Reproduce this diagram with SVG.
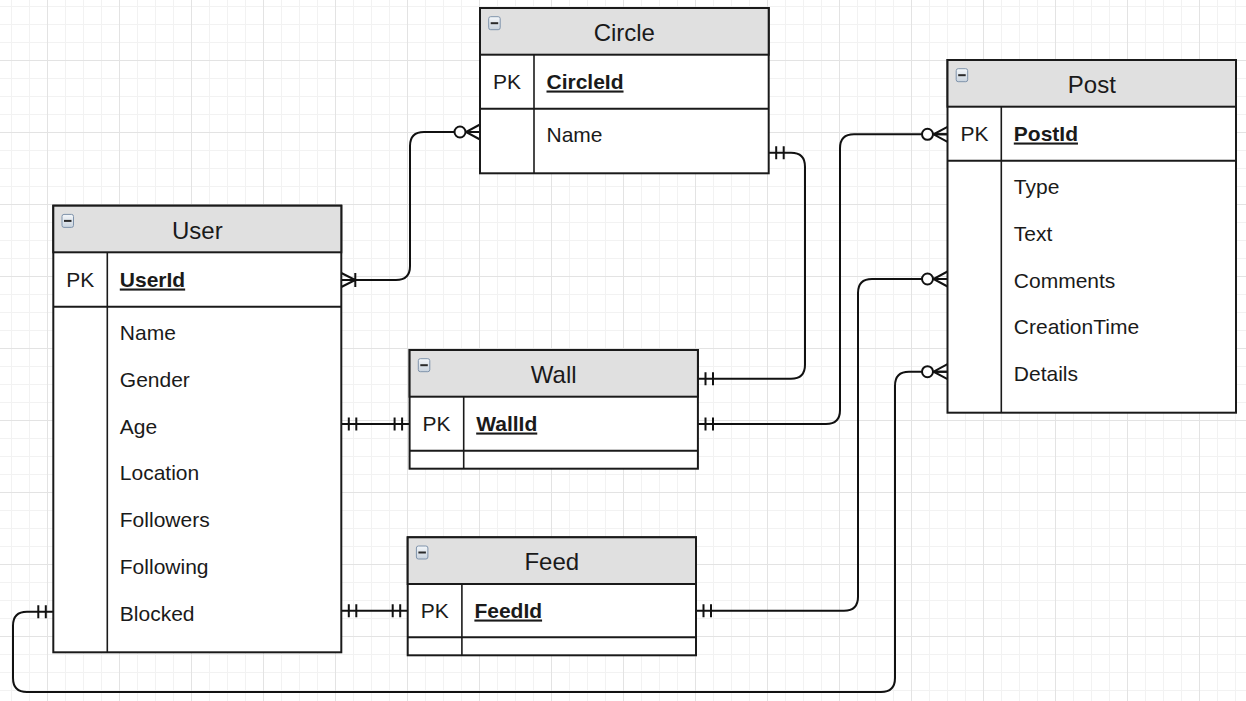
<svg xmlns="http://www.w3.org/2000/svg" width="1246" height="701" viewBox="0 0 1246 701">
<style>
.box{fill:#ffffff;stroke:#1a1a1a;stroke-width:2}
.hdr{fill:#e0e0e0;stroke:#1a1a1a;stroke-width:2}
.ln{stroke:#1a1a1a;stroke-width:2;fill:none}
.dv{stroke:#1a1a1a;stroke-width:1.6;fill:none}
.title{font-family:"Liberation Sans",Arial,sans-serif;font-size:24px;fill:#1a1a1a;text-anchor:middle}
.pk{font-family:"Liberation Sans",Arial,sans-serif;font-size:21px;fill:#1a1a1a;text-anchor:middle}
.key{font-family:"Liberation Sans",Arial,sans-serif;font-size:21px;font-weight:bold;fill:#1a1a1a;text-decoration:underline}
.fld{font-family:"Liberation Sans",Arial,sans-serif;font-size:21px;fill:#1a1a1a}
.conn{stroke:#111111;stroke-width:2;fill:none}
.mk{stroke:#111111;stroke-width:2;fill:none}
.ico{fill:url(#icoFill);stroke:#7f93ab;stroke-width:1}
.icoBar{stroke:#2a2a2a;stroke-width:2}
</style>
<defs>
<pattern id="grid" width="72" height="72" patternUnits="userSpaceOnUse" x="47" y="60">
<rect x="18" y="0" width="1" height="72" fill="#f2f2f2"/>
<rect x="36" y="0" width="1" height="72" fill="#f2f2f2"/>
<rect x="54" y="0" width="1" height="72" fill="#f2f2f2"/>
<rect x="0" y="18" width="72" height="1" fill="#f2f2f2"/>
<rect x="0" y="36" width="72" height="1" fill="#f2f2f2"/>
<rect x="0" y="54" width="72" height="1" fill="#f2f2f2"/>
<rect x="0" y="0" width="1" height="72" fill="#e3e3e3"/>
<rect x="0" y="0" width="72" height="1" fill="#e3e3e3"/>
</pattern>
<linearGradient id="icoFill" x1="0" y1="0" x2="0" y2="1">
<stop offset="0" stop-color="#f4f7fa"/>
<stop offset="1" stop-color="#c9d3de"/>
</linearGradient>
<marker id="zeroMany" markerUnits="userSpaceOnUse" markerWidth="40" markerHeight="30" refX="0" refY="0" viewBox="-30 -15 40 30" orient="auto-start-reverse" overflow="visible">
<path class="mk" d="M0,-7.5L-14,0L0,7.5M0,0H-14"/>
<circle cx="-20" cy="0" r="5.5" fill="#ffffff" stroke="#111111" stroke-width="2"/>
</marker>
<marker id="mandOne" markerUnits="userSpaceOnUse" markerWidth="40" markerHeight="30" refX="0" refY="0" viewBox="-30 -15 40 30" orient="auto-start-reverse" overflow="visible">
<path class="mk" d="M-7.5,-6.5V6.5M-15,-6.5V6.5"/>
</marker>
<marker id="oneMany" markerUnits="userSpaceOnUse" markerWidth="40" markerHeight="30" refX="0" refY="0" viewBox="-30 -15 40 30" orient="auto-start-reverse" overflow="visible">
<path class="mk" d="M0,-7L-14,0L0,7M0,0H-14M-14,-7V7"/>
</marker>
</defs>
<rect x="0" y="0" width="1246" height="701" fill="#ffffff"/>
<rect x="0" y="0" width="1246" height="701" fill="url(#grid)"/>

<g id="connectors">
<path class="conn" d="M341.3,280 H396 Q410,280 410,266 V146 Q410,132 424,132 H480" marker-start="url(#oneMany)" marker-end="url(#zeroMany)"/>
<path class="conn" d="M768.7,152.7 H791 Q805,152.7 805,166.7 V364.7 Q805,378.7 791,378.7 H698" marker-start="url(#mandOne)" marker-end="url(#mandOne)"/>
<path class="conn" d="M698,424 H826 Q840,424 840,410 V148.3 Q840,134.3 854,134.3 H947.5" marker-start="url(#mandOne)" marker-end="url(#zeroMany)"/>
<path class="conn" d="M696,610.7 H844 Q858,610.7 858,596.7 V293 Q858,279 872,279 H947.5" marker-start="url(#mandOne)" marker-end="url(#zeroMany)"/>
<path class="conn" d="M53.3,611.7 H27 Q13,611.7 13,625.7 V678 Q13,692 27,692 H881 Q895,692 895,678 V385.7 Q895,371.7 909,371.7 H947.5" marker-start="url(#mandOne)" marker-end="url(#zeroMany)"/>
<path class="conn" d="M341.3,424 H409.6" marker-start="url(#mandOne)" marker-end="url(#mandOne)"/>
<path class="conn" d="M341.3,610.8 H407.7" marker-start="url(#mandOne)" marker-end="url(#mandOne)"/>
</g>

<g id="circle">
<rect class="box" x="480" y="8" width="288.7" height="165.3"/>
<rect class="hdr" x="480" y="8" width="288.7" height="46.7"/>
<line class="ln" x1="480" y1="108.7" x2="768.7" y2="108.7"/>
<line class="dv" x1="534" y1="54.7" x2="534" y2="173.3"/>
<rect class="ico" x="488.7" y="16.7" width="11.5" height="13" rx="2"/>
<line class="icoBar" x1="490.7" y1="23.2" x2="498.2" y2="23.2"/>
<text class="title" x="624.3" y="40.8">Circle</text>
<text class="pk" x="507" y="88.5">PK</text>
<text class="key" x="546.5" y="88.5">CircleId</text>
<text class="fld" x="546.5" y="142">Name</text>
</g>

<g id="user">
<rect class="box" x="53.3" y="205.7" width="288" height="446.6"/>
<rect class="hdr" x="53.3" y="205.7" width="288" height="46.6"/>
<line class="ln" x1="53.3" y1="306.7" x2="341.3" y2="306.7"/>
<line class="dv" x1="107.3" y1="252.3" x2="107.3" y2="652.3"/>
<rect class="ico" x="62" y="214.4" width="11.5" height="13" rx="2"/>
<line class="icoBar" x1="64" y1="220.9" x2="71.5" y2="220.9"/>
<text class="title" x="197.3" y="239">User</text>
<text class="pk" x="80.3" y="286.5">PK</text>
<text class="key" x="119.8" y="286.5">UserId</text>
<text class="fld" x="119.8" y="340">Name</text>
<text class="fld" x="119.8" y="386.8">Gender</text>
<text class="fld" x="119.8" y="433.6">Age</text>
<text class="fld" x="119.8" y="480.4">Location</text>
<text class="fld" x="119.8" y="527.2">Followers</text>
<text class="fld" x="119.8" y="574">Following</text>
<text class="fld" x="119.8" y="620.8">Blocked</text>
</g>

<g id="wall">
<rect class="box" x="409.6" y="350" width="288.3" height="118.7"/>
<rect class="hdr" x="409.6" y="350" width="288.3" height="46.7"/>
<line class="ln" x1="409.6" y1="450.7" x2="697.9" y2="450.7"/>
<line class="dv" x1="463.7" y1="396.7" x2="463.7" y2="468.7"/>
<rect class="ico" x="418.3" y="358.7" width="11.5" height="13" rx="2"/>
<line class="icoBar" x1="420.3" y1="365.2" x2="427.8" y2="365.2"/>
<text class="title" x="553.7" y="383">Wall</text>
<text class="pk" x="436.6" y="430.5">PK</text>
<text class="key" x="476.2" y="430.5">WallId</text>
</g>

<g id="feed">
<rect class="box" x="407.7" y="537.3" width="288.3" height="118"/>
<rect class="hdr" x="407.7" y="537.3" width="288.3" height="46.7"/>
<line class="ln" x1="407.7" y1="637.3" x2="696" y2="637.3"/>
<line class="dv" x1="461.9" y1="584" x2="461.9" y2="655.3"/>
<rect class="ico" x="416.4" y="546" width="11.5" height="13" rx="2"/>
<line class="icoBar" x1="418.4" y1="552.5" x2="425.9" y2="552.5"/>
<text class="title" x="551.8" y="570.3">Feed</text>
<text class="pk" x="434.8" y="617.5">PK</text>
<text class="key" x="474.4" y="617.5">FeedId</text>
</g>

<g id="post">
<rect class="box" x="947.5" y="60" width="288.5" height="352.7"/>
<rect class="hdr" x="947.5" y="60" width="288.5" height="46.7"/>
<line class="ln" x1="947.5" y1="160.7" x2="1236" y2="160.7"/>
<line class="dv" x1="1001.3" y1="106.7" x2="1001.3" y2="412.7"/>
<rect class="ico" x="956.2" y="68.7" width="11.5" height="13" rx="2"/>
<line class="icoBar" x1="958.2" y1="75.2" x2="965.7" y2="75.2"/>
<text class="title" x="1091.8" y="93">Post</text>
<text class="pk" x="974.4" y="140.5">PK</text>
<text class="key" x="1013.8" y="140.5">PostId</text>
<text class="fld" x="1013.8" y="194">Type</text>
<text class="fld" x="1013.8" y="240.8">Text</text>
<text class="fld" x="1013.8" y="287.6">Comments</text>
<text class="fld" x="1013.8" y="334.4">CreationTime</text>
<text class="fld" x="1013.8" y="381.2">Details</text>
</g>
</svg>
